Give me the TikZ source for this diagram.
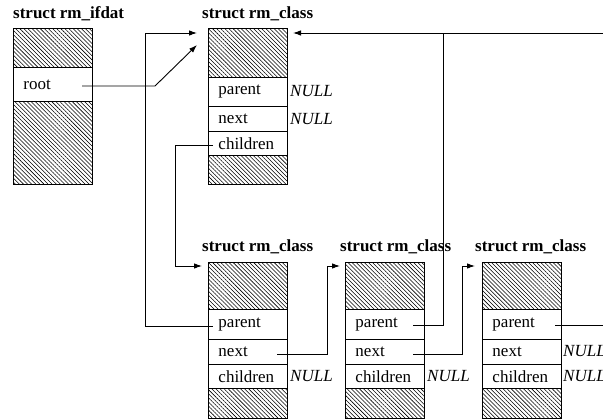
\documentclass[tikz,border=0pt]{standalone}
\usepackage{fontspec}
\setmainfont{Liberation Serif}
\usetikzlibrary{patterns.meta,arrows.meta}

\newcommand\diagfont{\fontsize{17pt}{20pt}\selectfont}

\tikzset{
  hatchbox/.style={draw, rectangle, anchor=north west, inner sep=0pt,
    minimum width=79pt, line width=0.9pt,
    pattern={Lines[angle=-45, distance=2.9pt, line width=0.55pt]}},
  field/.style={draw, rectangle, anchor=north west, inner xsep=10pt, inner ysep=0pt,
    text width=59pt, align=left, line width=0.9pt, font=\diagfont},
  title/.style={anchor=base west, inner sep=0pt, font=\diagfont\bfseries},
  nullval/.style={anchor=west, inner sep=0pt, font=\diagfont\itshape},
  ptr/.style={line width=0.9pt, -{Latex[length=8pt,width=5.5pt]}},
  link/.style={line width=0.9pt}
}

\begin{document}
\begin{tikzpicture}[x=1pt, y=-1pt]
\useasboundingbox (0,0) rectangle (603,419);
\clip (0,0) rectangle (603,419);

% struct rm_ifdat
\node[title] (I-title) at (13,19) {struct rm\_ifdat};
\node[hatchbox, minimum height=39pt] (I-h1) at (13,28) {};
\node[field, minimum height=34pt] (I-root) at (13,67) {root};
\node[hatchbox, minimum height=83pt] (I-h2) at (13,101) {};

% top struct rm_class
\node[title] (T-title) at (202,19) {struct rm\_class};
\node[hatchbox, minimum height=49pt] (T-h1) at (208,28) {};
\node[field, minimum height=29pt] (T-parent) at (208,77) {parent};
\node[field, minimum height=25pt] (T-next) at (208,106) {next};
\node[field, minimum height=24pt] (T-children) at (208,131) {children};
\node[hatchbox, minimum height=29pt] (T-h2) at (208,155) {};
\node[nullval] (T-pnull) at (290,91) {NULL};
\node[nullval] (T-nnull) at (290,119) {NULL};

% lower struct rm_class boxes
\foreach \n/\x/\tx in {A/208/202, B/345/340, C/482/475}{
  \node[title] (\n-title) at (\tx,252) {struct rm\_class};
  \node[hatchbox, minimum height=47pt] (\n-h1) at (\x,262) {};
  \node[field, minimum height=30pt] (\n-parent) at (\x,309) {parent};
  \node[field, minimum height=25pt] (\n-next) at (\x,339) {next};
  \node[field, minimum height=24pt] (\n-children) at (\x,364) {children};
  \node[hatchbox, minimum height=30pt] (\n-h2) at (\x,388) {};
}
\node[nullval] (A-cnull) at (290,376) {NULL};
\node[nullval] (B-cnull) at (427,376) {NULL};
\node[nullval] (C-nnull) at (563,351) {NULL};
\node[nullval] (C-cnull) at (563,376) {NULL};

% pointer ends
\coordinate (root-out) at (82,86);
\coordinate (T-in-root) at (197,45);
\coordinate (T-in-left) at (197,33);
\coordinate (T-in-right) at (293,33);
\coordinate (T-children-out) at (213,145);
\coordinate (A-parent-out) at (213,326);
\coordinate (A-next-out) at (277,354);
\coordinate (B-parent-out) at (413,325);
\coordinate (B-next-out) at (413,354);
\coordinate (C-parent-out) at (555,325);
\coordinate (A-in) at (202,266);
\coordinate (B-in) at (340,266);
\coordinate (C-in) at (475,266);

% connectors
\draw[ptr] (root-out) -- (155,86) -- (T-in-root);
\draw[ptr] (A-parent-out) -- (145,326) -- (145,33) -- (T-in-left);
\draw[ptr] (T-children-out) -- (175,145) -- (175,266) -- (A-in);
\draw[ptr] (A-next-out) -- (327,354) -- (327,266) -- (B-in);
\draw[ptr] (B-next-out) -- (462,354) -- (462,266) -- (C-in);
\draw[link] (B-parent-out) -- (443,325) -- (443,33);
\draw[ptr] (C-parent-out) -- (615,325) -- (615,33) -- (T-in-right);
\end{tikzpicture}
\end{document}
